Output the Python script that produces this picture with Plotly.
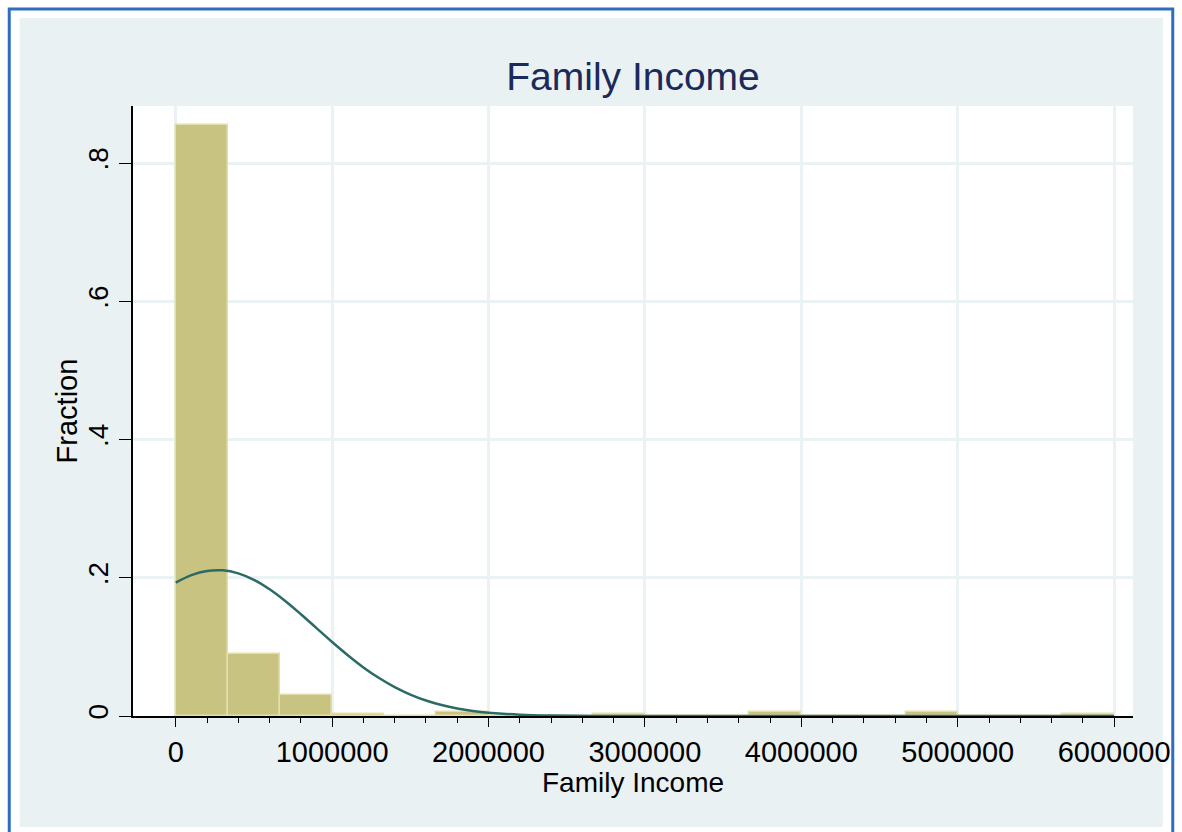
import plotly.graph_objects as go

# Histogram of family income (fraction per bin), 18 equal-width bins from 0 to 6,000,000
bin_width = 6000000 / 18
bin_starts = [i * bin_width for i in range(18)]
fractions = [0.855, 0.089, 0.030, 0.003, 0.0, 0.006, 0.0, 0.0, 0.003,
             0.0, 0.0, 0.006, 0.0, 0.0, 0.006, 0.0, 0.0, 0.003]

# Normal density overlay, scaled to fraction units
curve_x = [0, 100000, 200000, 300000, 400000, 500000, 600000, 700000, 800000,
           900000, 1000000, 1100000, 1200000, 1300000, 1400000, 1500000, 1600000,
           1700000, 1800000, 1900000, 2000000, 2200000, 2400000, 2700000, 3200000,
           6000000]
curve_y = [0.1930, 0.2038, 0.2098, 0.2107, 0.2063, 0.1969, 0.1833, 0.1664, 0.1473,
           0.1272, 0.1070, 0.0879, 0.0703, 0.0549, 0.0418, 0.0310, 0.0224,
           0.0158, 0.0109, 0.0073, 0.0048, 0.0019, 0.0007, 0.0001, 0.0,
           0.0]

x_ticks = [0, 1000000, 2000000, 3000000, 4000000, 5000000, 6000000]
x_tick_labels = ["0", "1000000", "2000000", "3000000", "4000000", "5000000", "6000000"]
x_minor_ticks = [i * 200000 for i in range(31)]
y_ticks = [0, 0.2, 0.4, 0.6, 0.8]
y_tick_labels = ["0", ".2", ".4", ".6", ".8"]

FONT = "Liberation Sans, Arial, sans-serif"
W, H = 1182, 832
L, R, T, B = 133, 1139, 106, 716  # plot area in pixels


def px_to_paper_x(px):
    return (px - L) / (R - L)


def px_to_paper_y(py):
    return (B - py) / (B - T)


fig = go.Figure()

fig.add_trace(go.Bar(
    x=[s + bin_width / 2 for s in bin_starts],
    y=fractions,
    width=bin_width,
    marker=dict(color="#C9C381", line=dict(color="#E3DFAA", width=1.5)),
    hoverinfo="skip",
    showlegend=False,
))

fig.add_trace(go.Scatter(
    x=curve_x,
    y=curve_y,
    mode="lines",
    line=dict(color="#2B6B66", width=2.5, shape="spline"),
    hoverinfo="skip",
    showlegend=False,
))

x_range = [(L - 176) / ((1120 - 176) / 6000000), (R - 176) / ((1120 - 176) / 6000000)]
y_range = [0, (B - T) / ((716 - 163) / 0.8)]

fig.update_layout(
    width=W,
    height=H,
    margin=dict(l=L, r=W - R, t=T, b=H - B, pad=0),
    paper_bgcolor="white",
    plot_bgcolor="white",
    bargap=0,
    title=dict(
        text="Family Income",
        x=0.5, xref="paper", xanchor="center",
        y=1 - 76 / H, yanchor="middle",
        font=dict(family=FONT, size=39, color="#1B2A58"),
    ),
    xaxis=dict(
        range=x_range,
        tickvals=x_ticks,
        ticktext=x_tick_labels,
        ticks="outside",
        ticklen=9,
        tickwidth=1.3,
        tickcolor="black",
        minor=dict(tickmode="array", tickvals=x_minor_ticks, ticks="outside",
                   ticklen=5, tickwidth=1.3, tickcolor="black", showgrid=False),
        showline=True,
        linecolor="black",
        linewidth=1.5,
        showgrid=True,
        gridcolor="#EAF2F3",
        gridwidth=2.5,
        zeroline=False,
        tickfont=dict(family=FONT, size=29, color="black"),
    ),
    yaxis=dict(
        range=y_range,
        tickvals=y_ticks,
        ticktext=y_tick_labels,
        tickangle=-90,
        ticks="outside",
        ticklen=12,
        tickwidth=1.3,
        tickcolor="black",
        showline=True,
        linecolor="black",
        linewidth=1.5,
        showgrid=True,
        gridcolor="#EAF2F3",
        gridwidth=2.5,
        zeroline=False,
        tickfont=dict(family=FONT, size=28, color="black"),
    ),
    annotations=[
        dict(text="Family Income", xref="paper", yref="paper",
             x=0.5, y=px_to_paper_y(782), xanchor="center", yanchor="middle",
             showarrow=False, font=dict(family=FONT, size=28, color="black")),
        dict(text="Fraction", xref="paper", yref="paper", textangle=-90,
             x=px_to_paper_x(67), y=0.5, xanchor="center", yanchor="middle",
             showarrow=False, font=dict(family=FONT, size=29, color="black")),
    ],
    shapes=[
        # outer frame
        dict(type="rect", xref="paper", yref="paper", layer="below",
             x0=px_to_paper_x(8.5), x1=px_to_paper_x(1179),
             y0=px_to_paper_y(850), y1=px_to_paper_y(9),
             line=dict(color="#2F6DBE", width=3), fillcolor="white"),
        # graph region background
        dict(type="rect", xref="paper", yref="paper", layer="below",
             x0=px_to_paper_x(19), x1=px_to_paper_x(1169),
             y0=px_to_paper_y(827), y1=px_to_paper_y(18),
             line=dict(width=0), fillcolor="#EAF1F3"),
        # plot region
        dict(type="rect", xref="paper", yref="paper", layer="below",
             x0=0, x1=1, y0=0, y1=1,
             line=dict(width=0), fillcolor="white"),
    ],
)

fig.write_html("out.html")
